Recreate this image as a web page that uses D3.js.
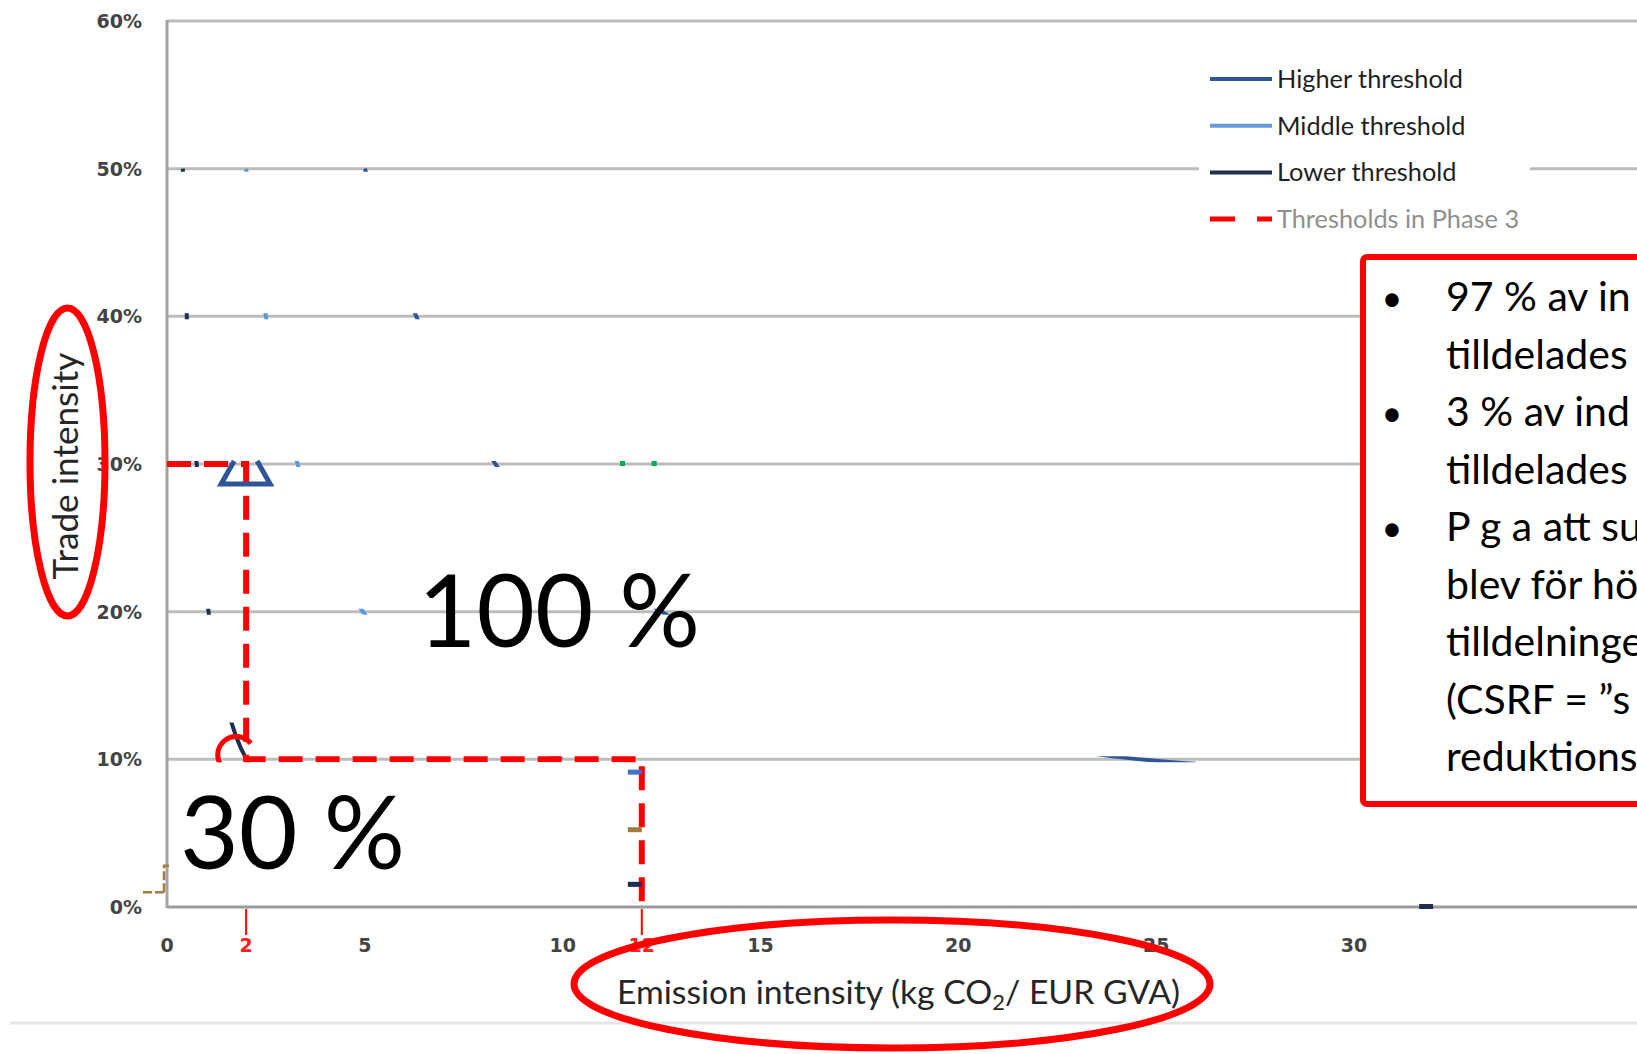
<!DOCTYPE html>
<html>
<head>
<meta charset="utf-8">
<script src="https://cdnjs.cloudflare.com/ajax/libs/d3/7.8.5/d3.min.js"></script>
<style>
  html, body { margin: 0; padding: 0; background: #fff; overflow: hidden; }
</style>
</head>
<body>
<div id="container"></div>
<script>
// ---- data ----
const xTicks = [0, 5, 10, 15, 20, 25, 30];
const phase3X = [2, 12];
const yTicks = [0, 0.1, 0.2, 0.3, 0.4, 0.5, 0.6];

// where each threshold curve shows through at the gridlines (emission, trade)
const higherThreshold = [[5.0, 0.5], [6.3, 0.4], [8.3, 0.3], [12.5, 0.2], [23.9, 0.102], [26.0, 0.097]];
const middleThreshold = [[2.0, 0.5], [2.5, 0.4], [3.3, 0.3], [4.95, 0.2], [10.0, 0.1]];
const lowerThreshold  = [[0.4, 0.5], [0.5, 0.4], [0.75, 0.3], [1.05, 0.2], [1.64, 0.124], [2.1, 0.096]];
const greenMarks = [[11.5, 0.3], [12.3, 0.3]];
// small leftover marks next to the 12 kg line and on the axis
const strayMarks = [
  { x: 12, y: 0.091, c: "#4472c4" },
  { x: 12, y: 0.052, c: "#a07d3c" },
  { x: 12, y: 0.015, c: "#1f2f4d" },
  { x: 32.0, y: 0.0, c: "#1f2f4d" }
];

// phase 3 thresholds: 30 % trade / 2 kg, 10 % trade / 12 kg
const phase3Path = [[0, 0.3], [2, 0.3], [2, 0.1], [12, 0.1], [12, 0]];
const triangleMarks = [[2, 0.3]];
const circleMarks = [[1.75, 0.103]];

const legendLabels = ["Higher threshold", "Middle threshold", "Lower threshold", "Thresholds in Phase 3"];
const bigLabels = ["100 %", "30 %"];
const boxLines = [
  "97 % av in", "tilldelades", "3 % av ind", "tilldelades",
  "P g a att su", "blev för hö", "tilldelninge", "(CSRF = \u201ds", "reduktions"
];
const bulletLines = [0, 2, 4];

// ---- layout ----
const W = 1637, H = 1054;
const x = d3.scaleLinear().domain([0, 30]).range([167, 1354]);
const y = d3.scaleLinear().domain([0, 0.6]).range([907, 21]);

function fitWidth(sel, w) {
  const len = sel.node().getComputedTextLength();
  const fs = parseFloat(sel.attr("font-size"));
  sel.attr("font-size", fs * w / len);
  return fs * w / len;
}

const svg = d3.select("#container").append("svg")
  .attr("width", W).attr("height", H)
  .style("font-family", "Lato, 'Open Sans', sans-serif");

svg.append("rect").attr("width", W).attr("height", H).attr("fill", "#fff");

// gridlines
svg.selectAll(".grid").data(yTicks.filter(d => d > 0)).enter().append("line")
  .attr("class", "grid")
  .attr("x1", x(0)).attr("x2", W)
  .attr("y1", d => y(d)).attr("y2", d => y(d))
  .attr("stroke", "#bcbcbc").attr("stroke-width", 3);

// axes lines
svg.append("line").attr("x1", x(0)).attr("x2", W).attr("y1", y(0)).attr("y2", y(0))
  .attr("stroke", "#9c9c9c").attr("stroke-width", 3);
svg.append("line").attr("x1", x(0)).attr("x2", x(0)).attr("y1", y(0.6) - 1).attr("y2", y(0) + 1)
  .attr("stroke", "#a3a3a3").attr("stroke-width", 3);

// threshold curves only show through along the gridlines
const clip = svg.append("clipPath").attr("id", "bands");
clip.selectAll("rect").data(yTicks.filter(d => d > 0 && d < 0.6)).enter().append("rect")
  .attr("x", x(0) + 2).attr("width", W)
  .attr("y", d => y(d) - 3).attr("height", 6);
clip.append("rect")
  .attr("x", x(1.55)).attr("width", x(2.2) - x(1.55))
  .attr("y", y(0.125)).attr("height", y(0.095) - y(0.125));

const line = d3.line().x(d => x(d[0])).y(d => y(d[1])).curve(d3.curveMonotoneX);
const curves = svg.append("g").attr("clip-path", "url(#bands)");
[[higherThreshold, "#2f5597"], [middleThreshold, "#5b9bd5"], [lowerThreshold, "#1f2f4d"]].forEach(([d, c]) => {
  curves.append("path").datum(d).attr("d", line)
    .attr("fill", "none").attr("stroke", c).attr("stroke-width", 4);
});

svg.selectAll(".green").data(greenMarks).enter().append("rect")
  .attr("x", d => x(d[0]) - 2).attr("y", d => y(d[1]) - 3)
  .attr("width", 5).attr("height", 5).attr("fill", "#00b050");

// phase 3 dashed threshold lines
svg.append("path").datum(phase3Path)
  .attr("d", d3.line().x(d => x(d[0])).y(d => y(d[1])))
  .attr("fill", "none").attr("stroke", "#ff0000").attr("stroke-width", 6)
  .attr("stroke-dasharray", "24,13");

svg.selectAll(".stray").data(strayMarks).enter().append("rect")
  .attr("x", d => x(d.x) - 14).attr("y", d => y(d.y) - 3)
  .attr("width", 14).attr("height", 5).attr("fill", d => d.c);

// red ticks below axis
svg.selectAll(".rtick").data(phase3X).enter().append("line")
  .attr("x1", d => x(d)).attr("x2", d => x(d))
  .attr("y1", y(0) + 2).attr("y2", y(0) + 28)
  .attr("stroke", "#ff0000").attr("stroke-width", 2);

// triangle marker (top hidden above the gridline)
svg.selectAll(".tri").data(triangleMarks).enter().append("path")
  .attr("d", d => {
    const cx = x(d[0]), cy = y(d[1]);
    return `M${cx - 12},${cy - 3}L${cx - 25},${cy + 20}L${cx + 24},${cy + 20}L${cx + 11},${cy - 3}`;
  })
  .attr("fill", "none").attr("stroke", "#2f5597").attr("stroke-width", 5);

svg.selectAll(".circ").data(circleMarks).enter().append("path")
  .attr("transform", d => `translate(${x(d[0])},${y(d[1])})`)
  .attr("d", d3.arc().innerRadius(16).outerRadius(21).startAngle(-2.2).endAngle(0.9))
  .attr("fill", "#ff0000");

// white box behind "30 %"
svg.append("rect")
  .attr("x", x(0) + 2).attr("y", y(0.1) + 3)
  .attr("width", x(11.55) - x(0) - 2).attr("height", y(0) - y(0.1) - 13)
  .attr("fill", "#fff");

// brown bracket left of the box
svg.append("path")
  .attr("d", `M${x(0) - 24},${y(0.01)}L${x(0) - 3},${y(0.01)}M${x(0) - 3},${y(0.01)}L${x(0) - 3},${y(0.028)}L${x(0) + 2},${y(0.028)}`)
  .attr("fill", "none").attr("stroke", "#a07d3c").attr("stroke-width", 2.5)
  .attr("stroke-dasharray", "9,3");

// big overlay labels
const big100 = svg.append("text").attr("x", 418).attr("y", 647)
  .attr("font-size", 100).attr("fill", "#000").text(bigLabels[0]);
fitWidth(big100, 282);
const big30 = svg.append("text").attr("x", 180).attr("y", 869)
  .attr("font-size", 100).attr("fill", "#000").text(bigLabels[1]);
fitWidth(big30, 225);

// tick labels
const tickFont = "'DejaVu Sans', Verdana, sans-serif";
svg.selectAll(".ylab").data(yTicks).enter().append("text")
  .attr("x", 142).attr("y", d => y(d)).attr("dy", "0.36em")
  .attr("text-anchor", "end").attr("font-family", tickFont).attr("font-size", 19)
  .attr("font-weight", "bold").attr("fill", "#444").text(d3.format(".0%"));
svg.selectAll(".xlab").data(xTicks.concat(phase3X)).enter().append("text")
  .attr("x", d => x(d)).attr("y", 952)
  .attr("text-anchor", "middle").attr("font-family", tickFont).attr("font-size", 19)
  .attr("font-weight", "bold")
  .attr("fill", d => phase3X.includes(d) ? "#ff2020" : "#444").text(d => d);

// axis titles
const xt = svg.append("text").attr("x", 617).attr("y", 1004)
  .attr("font-size", 30).attr("fill", "#262626");
xt.append("tspan").text("Emission intensity (kg CO");
xt.append("tspan").attr("font-size", "0.65em").attr("dy", 6).text("2");
xt.append("tspan").attr("dy", -6).text("/ EUR GVA)");
fitWidth(xt, 563);

const yt = svg.append("text").attr("transform", "translate(78,466) rotate(-90)")
  .attr("text-anchor", "middle").attr("font-size", 30).attr("fill", "#262626")
  .text("Trade intensity");
fitWidth(yt, 227);

// legend
svg.append("rect").attr("x", 1199).attr("y", 56).attr("width", 331).attr("height", 185).attr("fill", "#fff");
const legColors = ["#2f5597", "#6a9bd8", "#1f2f4d", "#ff0000"];
const leg = svg.selectAll(".leg").data(legendLabels).enter().append("g")
  .attr("transform", (d, i) => `translate(1210,${79 + i * 46.7})`);
leg.append("line").attr("x1", 0).attr("x2", 62)
  .attr("stroke", (d, i) => legColors[i]).attr("stroke-width", (d, i) => i === 3 ? 5 : 4)
  .attr("stroke-dasharray", (d, i) => i === 3 ? "25,22" : null);
const legText = leg.append("text").attr("x", 67).attr("dy", "0.35em")
  .attr("font-size", 22).attr("fill", (d, i) => i === 3 ? "#8f8f8f" : "#1f1f1f")
  .text(d => d);
const legSize = fitWidth(d3.select(legText.nodes()[0]), 186);
legText.attr("font-size", legSize);

// red text box (runs off the right edge, as in the slide)
svg.append("rect").attr("x", 1363).attr("y", 257).attr("width", 400).attr("height", 547)
  .attr("rx", 4).attr("fill", "#fff").attr("stroke", "#ff0000").attr("stroke-width", 6);
svg.selectAll(".boxline").data(boxLines).enter().append("text")
  .attr("x", 1446).attr("y", (d, i) => 311 + i * 57.5)
  .attr("font-size", 41).attr("fill", "#000").text(d => d);
svg.selectAll(".bullet").data(bulletLines).enter().append("text")
  .attr("x", 1392).attr("y", d => 311 + d * 57.5).attr("text-anchor", "middle")
  .attr("font-size", 36).attr("fill", "#000").text("\u2022");

// bottom rule
svg.append("line").attr("x1", 10).attr("x2", W).attr("y1", 1023).attr("y2", 1023)
  .attr("stroke", "#e6e6e6").attr("stroke-width", 3);

// red highlight ellipses
svg.append("ellipse").attr("cx", 67.5).attr("cy", 462).attr("rx", 37.5).attr("ry", 154)
  .attr("fill", "none").attr("stroke", "#ff0000").attr("stroke-width", 7);
svg.append("ellipse").attr("cx", 892).attr("cy", 984).attr("rx", 318).attr("ry", 64)
  .attr("fill", "none").attr("stroke", "#ff0000").attr("stroke-width", 7);
</script>
</body>
</html>
